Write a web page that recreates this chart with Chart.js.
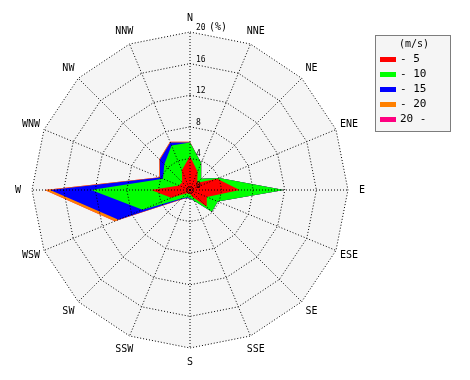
<!DOCTYPE html>
<html>
<head>
<meta charset="utf-8">
<script src="https://cdn.jsdelivr.net/npm/chart.js@4.4.0/dist/chart.umd.min.js"></script>
<style>
  html, body { margin: 0; padding: 0; background: #fff; }
</style>
</head>
<body>
<canvas id="rose" width="470" height="380"></canvas>
<script>
// wind directions, clockwise from north
var directions = ['N', 'NNE', 'NE', 'ENE', 'E', 'ESE', 'SE', 'SSE',
                  'S', 'SSW', 'SW', 'WSW', 'W', 'WNW', 'NW', 'NNW'];
var speedClasses = ['- 5', '- 10', '- 15', '- 20', '20 -'];
var classColors = ['#ff0000', '#00ff00', '#0000ff', '#ff8000', '#ff0080'];
var tickValues = [0, 4, 8, 12, 16, 20];

// frequency (%) per speed class and direction
var freqTo5  = [4.3, 2.5, 1.3, 3.7, 6.3, 2.3, 3.0, 1.0, 0.5, 0.5, 0.6, 2.6, 4.9, 1.5, 1.4, 2.7];
var freqTo10 = [1.7, 1.2, 0.7, 0.3, 5.6, 1.5, 0.9, 0.5, 0.5, 0.5, 0.9, 3.9, 7.6, 2.2, 3.2, 3.4];
var freqTo15 = [0, 0, 0, 0, 0, 0, 0, 0, 0.1, 0.1, 0.2, 3.3, 5.2, 0.4, 0.8, 0.4];
var freqTo20 = [0.1, 0, 0, 0, 0, 0, 0, 0, 0, 0, 0.1, 0.5, 0.7, 0.1, 0.1, 0.1];
var freqOver20 = [0, 0, 0, 0, 0, 0, 0, 0, 0, 0, 0, 0, 0, 0, 0, 0];

var classFreqs = [freqTo5, freqTo10, freqTo15, freqTo20, freqOver20];

// stack the classes so each area starts where the previous one ends
var running = directions.map(function() { return 0; });
var datasets = classFreqs.map(function(arr, k) {
  running = running.map(function(v, i) { return v + arr[i]; });
  return {
    label: speedClasses[k],
    data: running.slice(),
    backgroundColor: classColors[k],
    borderWidth: 0,
    pointRadius: 0,
    fill: 'origin'
  };
});

var monoFont = '"DejaVu Sans Mono", monospace';

var rosePlugin = {
  id: 'rose',
  beforeDatasetsDraw: function(chart) {
    var r = chart.scales.r, ctx = chart.ctx;
    var outer = r.getDistanceFromCenterForValue(r.max);
    ctx.save();
    ctx.beginPath();
    for (var i = 0; i < directions.length; i++) {
      var p = r.getPointPosition(i, outer);
      if (i === 0) ctx.moveTo(p.x, p.y); else ctx.lineTo(p.x, p.y);
    }
    ctx.closePath();
    ctx.fillStyle = '#f5f5f5';
    ctx.fill();
    ctx.restore();
  },
  afterDraw: function(chart) {
    var r = chart.scales.r, ctx = chart.ctx;
    var outer = r.getDistanceFromCenterForValue(r.max);
    ctx.save();
    // center mark
    ctx.beginPath();
    ctx.setLineDash([1, 1]);
    ctx.strokeStyle = '#000';
    ctx.arc(r.xCenter, r.yCenter, 2.5, 0, Math.PI * 2);
    ctx.stroke();
    ctx.setLineDash([]);

    // direction labels
    ctx.fillStyle = '#000';
    ctx.font = '10px ' + monoFont;
    ctx.textAlign = 'center';
    ctx.textBaseline = 'middle';
    directions.forEach(function(d, i) {
      var p = r.getPointPosition(i, outer + 14);
      ctx.fillText(d, p.x, p.y);
    });

    // tick labels along the north spoke
    ctx.textAlign = 'left';
    ctx.textBaseline = 'alphabetic';
    tickValues.forEach(function(v) {
      var y = r.yCenter - r.getDistanceFromCenterForValue(v) - 2;
      ctx.font = '8px ' + monoFont;
      ctx.fillText(String(v), r.xCenter + 6, y);
      if (v === r.max) {
        ctx.font = '10px ' + monoFont;
        ctx.fillText('(%)', r.xCenter + 19, y);
      }
    });

    // legend box
    var lx = 375.5, ly = 35.5, lw = 75, lh = 96;
    ctx.fillStyle = '#f5f5f5';
    ctx.fillRect(lx, ly, lw, lh);
    ctx.setLineDash([1, 1]);
    ctx.strokeStyle = '#000';
    ctx.strokeRect(lx, ly, lw, lh);
    ctx.setLineDash([]);
    ctx.fillStyle = '#000';
    ctx.font = '10px ' + monoFont;
    ctx.textAlign = 'center';
    ctx.textBaseline = 'middle';
    ctx.fillText('(m/s)', 414, 44);
    ctx.textAlign = 'left';
    ctx.font = '11px ' + monoFont;
    chart.data.datasets.forEach(function(ds, k) {
      var y = 59 + k * 15;
      ctx.fillStyle = ds.backgroundColor;
      ctx.fillRect(380, y - 2, 16, 5);
      ctx.fillStyle = '#000';
      ctx.fillText(ds.label, 400, y);
    });
    ctx.restore();
  }
};

new Chart(document.getElementById('rose').getContext('2d'), {
  type: 'radar',
  data: { labels: directions, datasets: datasets },
  options: {
    responsive: false,
    animation: false,
    layout: { padding: { top: 32, bottom: 32, left: 0, right: 90 } },
    plugins: { legend: { display: false }, tooltip: { enabled: false } },
    elements: { line: { tension: 0 } },
    scales: {
      r: {
        min: 0,
        max: 20,
        grid: { color: '#000', lineWidth: 1, z: 1 },
        border: { dash: [1, 2] },
        angleLines: { color: '#000', lineWidth: 1, borderDash: [1, 2] },
        ticks: { display: false, stepSize: 4 },
        pointLabels: { display: false }
      }
    }
  },
  plugins: [rosePlugin]
});
</script>
</body>
</html>
